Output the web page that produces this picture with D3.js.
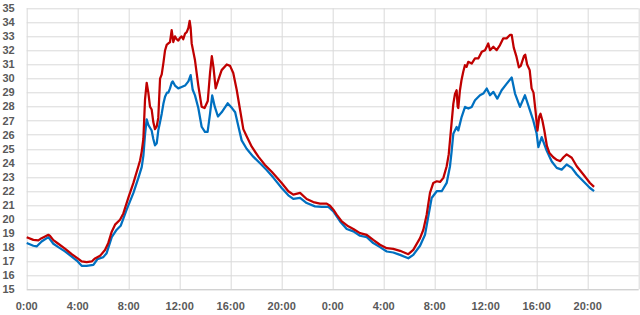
<!DOCTYPE html>
<html>
<head>
<meta charset="utf-8">
<script src="https://cdn.jsdelivr.net/npm/d3@7"></script>
<style>
  body { margin: 0; background: #fff; }
  svg text { font-family: "Liberation Sans", Arial, sans-serif; }
</style>
</head>
<body>
<svg id="chart"></svg>
<script>
// hours since midnight of day one
let redHours = [0, 0.52, 0.91, 1.17, 1.44, 1.7, 1.83, 2.09, 2.48, 3.0, 3.53, 4.0, 4.31, 4.7, 5.1, 5.36, 5.75, 6.14, 6.4, 6.67, 6.93, 7.32, 7.58, 8.0, 8.37, 8.76,
  8.89, 9.02, 9.15, 9.28, 9.41, 9.54, 9.67, 9.8, 9.93, 10.06, 10.2, 10.32, 10.46, 10.59, 10.72, 10.85, 10.98, 11.11, 11.24, 11.37, 11.5, 11.63, 11.76, 11.89, 12.02, 12.15, 12.28, 12.42, 12.55, 12.68, 12.78, 12.86, 12.94, 13.07,
  13.2, 13.46, 13.72, 13.95, 14.2, 14.38, 14.52, 14.65, 14.82, 15.03, 15.29, 15.69, 15.95, 16.2, 16.47, 16.73, 16.99, 17.25, 17.65, 18.17, 18.69, 19.22,
  20.0, 20.52, 20.91, 21.44, 21.96, 22.48, 23.0, 23.53, 23.79, 24.05, 24.31, 24.71, 25.22, 25.62, 26.14, 26.67, 27.18, 27.71, 28.24, 28.75, 29.28, 29.93, 30.32, 30.85,
  31.11, 31.37, 31.63, 31.89, 32.16, 32.42, 32.68, 32.94, 33.1, 33.2, 33.33, 33.46, 33.59, 33.72, 33.8, 33.85, 33.98, 34.1, 34.24, 34.37, 34.5, 34.63, 34.9, 35.16, 35.42, 35.69, 35.95, 36.2, 36.34, 36.6, 36.86, 37.12, 37.38, 37.64, 37.9, 38.04,
  38.2, 38.4, 38.6, 38.75, 39.0, 39.1, 39.25, 39.45, 39.6, 39.75, 39.92, 40.06, 40.2, 40.3, 40.45, 40.6, 40.8, 41.0, 41.3, 41.6, 41.85, 42.1, 42.35, 42.75, 43.14, 43.66, 44.18, 44.5];
let redTemp = [18.71, 18.52, 18.48, 18.64, 18.76, 18.88, 18.8, 18.5, 18.24, 17.9, 17.5, 17.2, 16.98, 16.93, 16.98, 17.2, 17.38, 17.8, 18.3, 19.1, 19.6, 19.95, 20.4, 21.6, 22.57, 23.76,
  24.17, 24.8, 25.7, 28.5, 29.7, 29.0, 28.0, 27.8, 26.9, 26.4, 26.6, 27.2, 30.0, 30.3, 31.1, 32.0, 32.4, 32.5, 32.6, 33.45, 32.6, 33.0, 32.8, 32.7, 32.9, 33.0, 32.8, 33.2, 33.3, 33.6, 34.1, 33.6, 32.5, 31.9,
  31.3, 29.5, 28.0, 27.9, 28.4, 30.4, 31.6, 30.8, 29.3, 29.9, 30.6, 31.0, 30.9, 30.4, 29.2, 27.8, 26.4, 25.9, 25.15, 24.44, 23.85, 23.37,
  22.57, 21.98, 21.74, 21.86, 21.43, 21.21, 21.1, 21.1, 20.95, 20.67, 20.31, 19.83, 19.48, 19.29, 19.0, 18.88, 18.52, 18.17, 17.93, 17.88, 17.74, 17.5, 17.81, 18.64,
  19.24, 20.31, 21.86, 22.57, 22.69, 22.64, 22.93, 23.76, 24.6, 25.6, 26.9, 28.2, 28.9, 29.17, 28.0, 27.9, 29.17, 29.88, 30.48, 30.95, 30.83, 31.19, 31.07, 31.43, 31.43, 31.9, 32.02, 32.5, 32.02, 32.26, 32.02, 32.38, 32.86, 32.86, 33.1, 33.1,
  32.2, 31.6, 30.8, 30.9, 31.6, 31.7, 31.0, 30.6, 29.3, 29.0, 27.6, 26.3, 27.3, 27.5, 27.0, 26.3, 25.2, 24.7, 24.4, 24.2, 24.12, 24.4, 24.6, 24.36, 23.76, 23.17, 22.57, 22.29];

let blueHours = [0, 0.52, 0.78, 1.17, 1.7, 2.09, 2.48, 3.0, 3.53, 4.0, 4.31, 4.7, 5.23, 5.54, 6.01, 6.27, 6.67, 7.06, 7.37, 7.84, 8.37, 8.76,
  9.02, 9.15, 9.28, 9.41, 9.54, 9.67, 9.8, 9.93, 10.06, 10.2, 10.32, 10.46, 10.59, 10.72, 10.85, 11.0, 11.11, 11.24, 11.37, 11.45, 11.63, 11.89, 12.15, 12.42, 12.68, 12.86, 13.02,
  13.2, 13.46, 13.72, 13.98, 14.19, 14.38, 14.55, 14.75, 15.0, 15.29, 15.76, 16.1, 16.35, 16.6, 16.86, 17.25, 17.77, 18.3, 18.82, 19.34,
  20.0, 20.52, 20.91, 21.44, 21.96, 22.61, 23.14, 23.66, 24.05, 24.58, 25.1, 25.62, 26.14, 26.67, 27.18, 27.71, 28.24, 28.75, 29.28, 29.93, 30.32, 30.85,
  31.24, 31.5, 31.76, 32.16, 32.55, 32.94, 33.2, 33.33, 33.46, 33.72, 33.85, 34.11, 34.38, 34.64, 34.9, 35.16, 35.55, 35.81, 36.08, 36.34, 36.6, 36.91, 37.25, 37.65, 38.04,
  38.3, 38.69, 39.08, 39.47, 39.73, 40.0, 40.13, 40.39, 40.78, 41.18, 41.57, 41.96, 42.35, 42.75, 43.14, 43.66, 44.18, 44.5];
let blueTemp = [18.29, 18.1, 18.05, 18.4, 18.71, 18.24, 18.0, 17.7, 17.33, 16.98, 16.67, 16.67, 16.74, 17.14, 17.29, 17.57, 18.71, 19.24, 19.52, 20.67, 21.86, 22.93,
  23.7, 24.5, 26.0, 27.1, 26.7, 26.5, 26.3, 25.7, 25.25, 25.4, 26.3, 26.9, 27.5, 28.2, 28.7, 29.0, 29.0, 29.3, 29.7, 29.8, 29.5, 29.3, 29.4, 29.5, 29.8, 30.25, 29.2,
  28.8, 27.9, 26.57, 26.2, 26.2, 27.5, 28.8, 28.0, 27.3, 27.6, 28.24, 27.9, 27.6, 26.6, 25.6, 25.0, 24.44, 23.97, 23.49, 22.95,
  22.21, 21.69, 21.43, 21.5, 21.14, 20.9, 20.86, 20.86, 20.55, 19.83, 19.29, 19.12, 18.81, 18.71, 18.29, 18.0, 17.69, 17.62, 17.45, 17.21, 17.45, 18.1,
  18.88, 20.19, 21.5, 21.98, 21.98, 22.57, 23.76, 24.83, 26.07, 26.55, 26.31, 27.26, 27.98, 27.86, 27.98, 28.45, 28.81, 28.93, 29.29, 28.81, 29.05, 28.57, 29.17, 29.64, 30.07,
  28.93, 27.98, 28.81, 27.74, 27.02, 26.07, 25.12, 25.83, 24.88, 24.1, 23.64, 23.52, 23.88, 23.64, 23.17, 22.69, 22.21, 21.98];

let yTicks = d3.range(15, 36, 1);
let xGrid = d3.range(0, 49, 4);
let xLabels = d3.range(0, 45, 4);

function drawChart() {

    let margin = {top: 8.3, right: 1.3, bottom: 25.7, left: 26.7};
    let width = 640 - margin.left - margin.right;
    let height = 315 - margin.top - margin.bottom;

    let svg = d3.select("#chart")
        .attr("width", 640)
        .attr("height", 315)
        .append("g")
        .attr("transform", "translate(" + margin.left + "," + margin.top + ")");

    let x = d3.scaleLinear().domain([0, 48]).range([0, width]);
    let y = d3.scaleLinear().domain([15, 35]).range([height, 0]);

    //grid
    svg.selectAll(".hgrid")
        .data(yTicks)
        .enter()
        .append("line")
        .attr("x1", 0)
        .attr("x2", width)
        .attr("y1", d => Math.round(y(d)) + 0.5)
        .attr("y2", d => Math.round(y(d)) + 0.5)
        .style("stroke", d => d === 15 ? "#bfbfbf" : "#d9d9d9")
        .style("stroke-width", 1);

    svg.selectAll(".vgrid")
        .data(xGrid)
        .enter()
        .append("line")
        .attr("x1", d => Math.round(x(d)) + 0.5)
        .attr("x2", d => Math.round(x(d)) + 0.5)
        .attr("y1", 0)
        .attr("y2", height)
        .style("stroke", "#d9d9d9")
        .style("stroke-width", 1);

    //labels
    svg.selectAll(".ylab")
        .data(yTicks)
        .enter()
        .append("text")
        .attr("x", -12)
        .attr("y", d => y(d))
        .attr("dy", "0.35em")
        .style("text-anchor", "end")
        .style("font-size", "11px")
        .style("font-weight", "bold")
        .style("fill", "#595959")
        .text(d => d);

    svg.selectAll(".xlab")
        .data(xLabels)
        .enter()
        .append("text")
        .attr("x", d => x(d))
        .attr("y", height + 21)
        .style("text-anchor", "middle")
        .style("font-size", "11px")
        .style("font-weight", "bold")
        .style("fill", "#595959")
        .text(d => (d % 24) + ":00");

    //lines
    let line = d3.line()
        .x(d => x(d[0]))
        .y(d => y(d[1]));

    svg.append("path")
        .datum(d3.zip(blueHours, blueTemp))
        .attr("d", line)
        .style("fill", "none")
        .style("stroke", "#0070c0")
        .style("stroke-width", 2.25)
        .style("stroke-linejoin", "round");

    svg.append("path")
        .datum(d3.zip(redHours, redTemp))
        .attr("d", line)
        .style("fill", "none")
        .style("stroke", "#c00000")
        .style("stroke-width", 2.25)
        .style("stroke-linejoin", "round");
}

drawChart();
</script>
</body>
</html>
